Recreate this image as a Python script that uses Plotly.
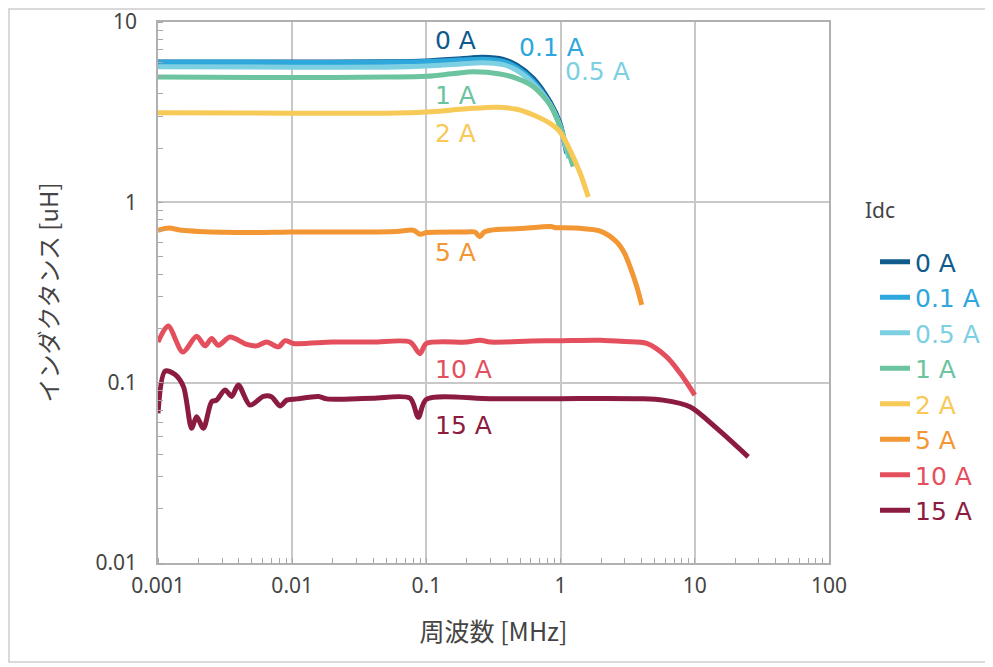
import plotly.graph_objects as go

# ---------------- data (frequency in MHz, inductance in uH) ----------------
f_0A = [0.001, 0.01, 0.05, 0.1, 0.18, 0.264, 0.374, 0.471, 0.627, 0.834, 0.99, 1.11]
L_0A = [6.0, 6.0, 6.02, 6.08, 6.25, 6.37, 6.21, 5.77, 4.87, 3.61, 2.74, 1.87]

f_01A = [0.001, 0.01, 0.05, 0.1, 0.18, 0.264, 0.374, 0.471, 0.627, 0.834, 0.99, 1.1]
L_01A = [5.98, 5.97, 5.98, 6.03, 6.15, 6.22, 6.05, 5.6, 4.7, 3.5, 2.68, 1.95]

f_05A = [0.001, 0.01, 0.05, 0.1, 0.18, 0.26, 0.374, 0.471, 0.627, 0.834, 0.99, 1.15]
L_05A = [5.65, 5.62, 5.62, 5.7, 5.85, 5.95, 5.8, 5.4, 4.55, 3.5, 2.65, 1.75]

f_1A = [0.001, 0.01, 0.05, 0.1, 0.16, 0.224, 0.353, 0.471, 0.627, 0.834, 0.99, 1.24]
L_1A = [4.95, 4.92, 4.95, 5.0, 5.18, 5.3, 5.15, 4.87, 4.38, 3.47, 2.63, 1.58]

f_2A = [0.001, 0.01, 0.05, 0.1, 0.2, 0.334, 0.471, 0.627, 0.834, 0.99, 1.175, 1.4, 1.61]
L_2A = [3.14, 3.12, 3.12, 3.17, 3.3, 3.37, 3.28, 3.05, 2.74, 2.46, 1.95, 1.45, 1.07]

f_5A = [0.001, 0.0012, 0.0015, 0.002, 0.005, 0.01, 0.03, 0.06, 0.08, 0.09, 0.1,
        0.2, 0.23, 0.25, 0.27, 0.3, 0.5, 0.85, 0.9, 1.3, 2.0, 2.63, 3.0, 3.29, 3.7, 4.02]
L_5A = [0.70, 0.72, 0.70, 0.69, 0.68, 0.685, 0.685, 0.69, 0.70, 0.665, 0.68,
        0.685, 0.685, 0.645, 0.685, 0.70, 0.715, 0.735, 0.725, 0.72, 0.69, 0.60, 0.52, 0.44, 0.34, 0.27]

f_10A = [0.001, 0.00119, 0.00153, 0.00194, 0.00224, 0.00251, 0.00281, 0.00344, 0.00458,
         0.00543, 0.00645, 0.00789, 0.00884, 0.0102, 0.02, 0.04, 0.0755, 0.0895, 0.1,
         0.2, 0.25, 0.3, 0.6, 1.0, 1.97, 3.0, 4.38, 6.17, 7.77, 10.0]
L_10A = [0.168, 0.206, 0.148, 0.181, 0.16, 0.176, 0.161, 0.179, 0.163,
         0.16, 0.168, 0.158, 0.171, 0.165, 0.168, 0.168, 0.168, 0.145, 0.165,
         0.168, 0.172, 0.168, 0.17, 0.171, 0.172, 0.169, 0.165, 0.139, 0.113, 0.0853]

f_15A = [0.001, 0.00113, 0.00134, 0.00155, 0.00178, 0.00194, 0.00218, 0.00251, 0.00273,
         0.00316, 0.00354, 0.00397, 0.00485, 0.0061, 0.0070, 0.00811, 0.0091, 0.0108,
         0.0157, 0.0181, 0.04, 0.0755, 0.087, 0.1, 0.3, 1.0, 1.97, 4.0, 5.8, 9.2, 14.6, 25.0]
L_15A = [0.0676, 0.116, 0.111, 0.0948, 0.0558, 0.0648, 0.0558, 0.0784, 0.08,
         0.091, 0.0839, 0.097, 0.0751, 0.0839, 0.0836, 0.0743, 0.08, 0.0813,
         0.0838, 0.0813, 0.082, 0.082, 0.0643, 0.0809, 0.0815, 0.0815, 0.0818, 0.0815, 0.080, 0.0735, 0.0558, 0.0388]

series_names = ["0 A", "0.1 A", "0.5 A", "1 A", "2 A", "5 A", "10 A", "15 A"]
series_f = [f_0A, f_01A, f_05A, f_1A, f_2A, f_5A, f_10A, f_15A]
series_L = [L_0A, L_01A, L_05A, L_1A, L_2A, L_5A, L_10A, L_15A]
colors = ["#0f5b8c", "#2ea7dc", "#7dd0e1", "#6cc39f", "#f7c956", "#f39634", "#e44f5e", "#8c1b40"]

# in-plot label positions (log10 f, log10 L)
label_x = [-0.951, -0.325, 0.018, -0.951, -0.951, -0.951, -0.951, -0.951]
label_y = [0.900, 0.861, 0.723, 0.595, 0.384, -0.276, -0.925, -1.235]

x_tickvals = [0.001, 0.01, 0.1, 1, 10, 100]
x_ticktext = ["0.001", "0.01", "0.1", "1", "10", "100"]
y_tickvals = [0.01, 0.1, 1, 10]
y_ticktext = ["0.01", "0.1", "1", "10"]

FONT = "Noto Sans, Open Sans, sans-serif"
LFONT = "DejaVu Sans, Noto Sans, sans-serif"
CJK = "Noto Sans CJK JP, Noto Sans, sans-serif"

# plot area in screen pixels (page has an 8px body offset)
PX0, PX1, PY0, PY1 = 158, 829, 22, 563
OFF = 8
W, H = 993, 667
PW, PH = PX1 - PX0, PY1 - PY0


def px(x):
    return (x - PX0) / PW


def py(y):
    return (PY1 - y) / PH


fig = go.Figure()
for i in range(len(series_names)):
    fig.add_trace(go.Scatter(
        x=series_f[i], y=series_L[i], mode="lines",
        name='<span style="color:%s">%s</span>' % (colors[i], series_names[i]),
        line=dict(color=colors[i], width=5, shape="spline", smoothing=0.8),
        hoverinfo="skip",
    ))

for i in range(len(series_names)):
    fig.add_annotation(
        x=label_x[i], y=label_y[i], xref="x", yref="y", text=series_names[i],
        showarrow=False, xanchor="left", yanchor="middle",
        font=dict(family=LFONT, size=25, color=colors[i]),
    )

# legend title as annotation
fig.add_annotation(
    x=px(863), y=py(210), xref="paper", yref="paper",
    text="Idc", showarrow=False, xanchor="left", yanchor="middle",
    font=dict(family=FONT, size=21, color="#444444"),
)

# outer border
fig.add_shape(
    type="rect", xref="paper", yref="paper",
    x0=px(9), x1=px(1010), y0=py(662), y1=py(9),
    line=dict(color="#cdcdcd", width=1.5), layer="below",
)

fig.update_xaxes(
    type="log", range=[-3, 2], automargin=False,
    tickvals=x_tickvals, ticktext=x_ticktext, ticklabeloverflow="allow",
    showgrid=True, gridcolor="#c8c8c8", gridwidth=1.5,
    showline=True, linecolor="#b0b0b0", linewidth=1.5, mirror=True,
    ticks="", ticklabelstandoff=3,
    minor=dict(ticks="inside", ticklen=5, tickcolor="#a8a8a8", tickwidth=1, dtick="D1", showgrid=False),
    tickfont=dict(family=FONT, size=21, color="#444444"),
    title=dict(text="周波数 [MHz]", font=dict(family=CJK, size=25, color="#444444"), standoff=26),
    zeroline=False,
)
fig.update_yaxes(
    type="log", range=[-2, 1], automargin=False,
    tickvals=y_tickvals, ticktext=y_ticktext, ticklabeloverflow="allow",
    showgrid=True, gridcolor="#c8c8c8", gridwidth=1.5,
    showline=True, linecolor="#b0b0b0", linewidth=1.5, mirror=True,
    ticks="", ticklabelstandoff=15,
    minor=dict(ticks="inside", ticklen=5, tickcolor="#a8a8a8", tickwidth=1, dtick="D1", showgrid=False),
    tickfont=dict(family=FONT, size=21, color="#444444"),
    title=dict(text="インダクタンス [uH]", font=dict(family=CJK, size=24, color="#444444"), standoff=30),
    zeroline=False,
)

fig.update_layout(
    width=W, height=H,
    margin=dict(l=PX0 - OFF, r=W - (PX1 - OFF), t=PY0 - OFF, b=H - (PY1 - OFF)),
    paper_bgcolor="white", plot_bgcolor="white",
    showlegend=True,
    legend=dict(
        x=px(875), y=py(239), xanchor="left", yanchor="top",
        font=dict(family=LFONT, size=25),
        bgcolor="rgba(0,0,0,0)", borderwidth=0,
        itemwidth=30, tracegroupgap=0,
    ),
)

fig.write_html("out.html")
